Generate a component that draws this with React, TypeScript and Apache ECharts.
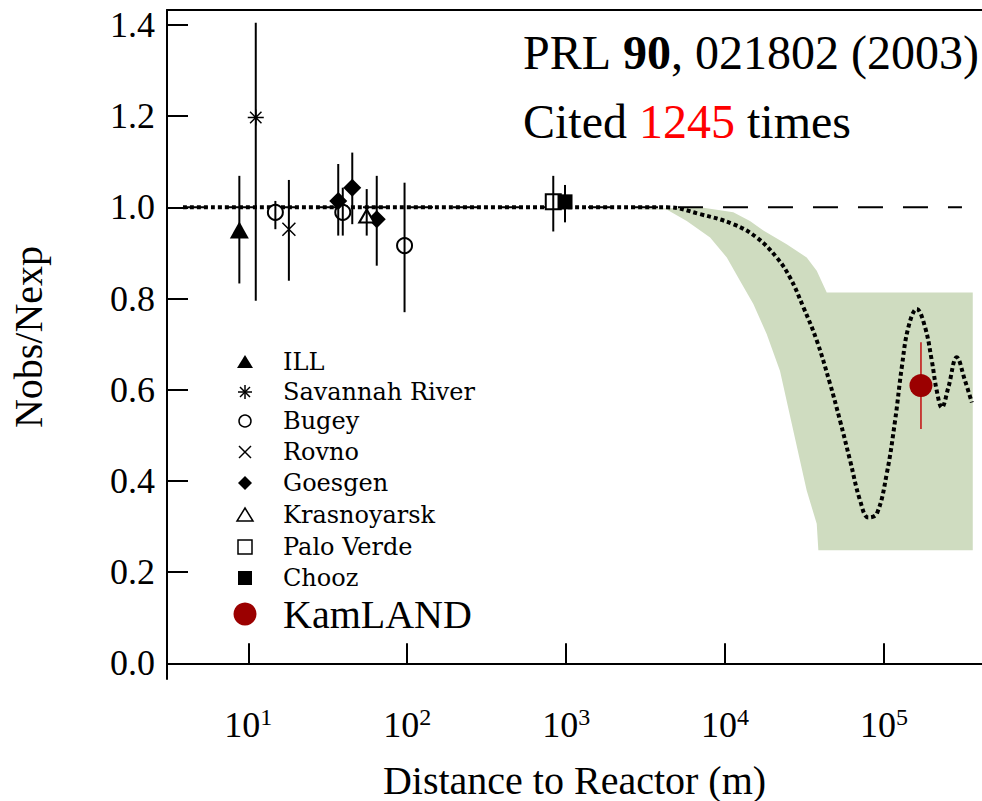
import React, { useEffect, useRef } from "react";
import * as echarts from "echarts";

const SERIF = "'Liberation Serif', 'Times New Roman', serif";
const LEGEND_FONT = "'DejaVu Serif', serif";

// axis ranges
const X_MIN = 3.078;
const X_MAX = 414100;
const Y_MIN = -0.0344;
const Y_MAX = 1.4327;
const X_TICKS = [10, 100, 1000, 10000, 100000];
const Y_TICKS = [0, 0.2, 0.4, 0.6, 0.8, 1.0, 1.2, 1.4];

// [distance (m), Nobs/Nexp, low, high]
const ILL = [[8.78, 0.95, 0.833, 1.069]];
const SAVANNAH_RIVER = [[11.14, 1.197, 0.795, 1.405]];
const BUGEY = [
  [14.8, 0.989, 0.952, 1.014],
  [39.3, 0.989, 0.938, 1.043],
  [96.2, 0.916, 0.77, 1.054],
];
const ROVNO = [[18.0, 0.952, 0.839, 1.06]];
const GOESGEN = [
  [36.8, 1.014, 0.938, 1.095],
  [45.1, 1.043, 0.963, 1.12],
  [64.3, 0.974, 0.872, 1.069],
];
const KRASNOYARSK = [[55.6, 0.981, 0.938, 1.04]];
const PALO_VERDE = [[830, 1.012, 0.947, 1.069]];
const CHOOZ = [[984, 1.012, 0.967, 1.049]];
const KAMLAND = [[171000, 0.609, 0.514, 0.704]];

// oscillation curve (best fit) and no-oscillation line
const OSC_CURVE = [
  [3.88, 1.0], [4315, 1.0], [6966, 0.985], [11270, 0.963], [15810, 0.934],
  [21130, 0.89], [25640, 0.846], [31110, 0.781], [37760, 0.708], [45800, 0.613],
  [52950, 0.532], [61220, 0.445], [70790, 0.357], [79800, 0.32], [90150, 0.328],
  [104200, 0.416], [117500, 0.532], [129500, 0.649], [142500, 0.737], [160800, 0.777],
  [181500, 0.737], [200000, 0.664], [214900, 0.598], [231200, 0.561], [254300, 0.605],
  [287100, 0.671], [323600, 0.62], [357300, 0.572],
];
const NO_OSC_LINE = [[3.88, 1.0], [309700, 1.0]];

// allowed region band
const BAND_UPPER = [
  [2523, 0.995], [6966, 1.0], [11270, 0.989], [14350, 0.97], [17420, 0.949],
  [24430, 0.919], [32650, 0.89], [37760, 0.861], [43650, 0.813], [362200, 0.813],
];
const BAND_LOWER = [
  [2523, 0.995], [4295, 0.995], [5741, 0.97], [8054, 0.934], [10260, 0.89],
  [12420, 0.839], [15070, 0.788], [18280, 0.722], [22180, 0.641], [26900, 0.51],
  [32650, 0.379], [37760, 0.306], [38660, 0.248], [362200, 0.248],
];

const LEGEND_NAMES = [
  "ILL", "Savannah River", "Bugey", "Rovno", "Goesgen",
  "Krasnoyarsk", "Palo Verde", "Chooz", "KamLAND",
];

const KAM_RED = "#9b0000";
const KAM_BAR = "#c41a1a";

const ASTERISK = "path://M8,0L8,16M0,8L16,8M2.3,2.3L13.7,13.7M2.3,13.7L13.7,2.3";
const CROSS = "path://M0,0L16,16M0,16L16,0";

function scatter(name: string, rows: number[][], symbol: string, size: any, extra: any = {}) {
  return {
    type: "scatter",
    name,
    data: rows.map((r) => [r[0], r[1]]),
    symbol,
    symbolSize: size,
    z: 3,
    itemStyle: { color: "#000", borderColor: "#000", borderWidth: 1.5, opacity: 1, ...extra },
    emphasis: { disabled: true },
  };
}

const ALL_REACTOR = [
  ...ILL, ...SAVANNAH_RIVER, ...BUGEY, ...ROVNO, ...GOESGEN,
  ...KRASNOYARSK, ...PALO_VERDE, ...CHOOZ,
];

function errSeries(name: string, rows: number[][], color: string, width: number, z: number) {
  return {
    type: "custom",
    name,
    z,
    data: rows.map((r) => [r[0], r[2], r[3]]),
    encode: { x: 0, y: [1, 2] },
    renderItem: (_p: any, api: any) => {
      const a = api.coord([api.value(0), api.value(1)]);
      const b = api.coord([api.value(0), api.value(2)]);
      return {
        type: "line",
        shape: { x1: a[0], y1: a[1], x2: b[0], y2: b[1] },
        style: { stroke: color, lineWidth: width },
      };
    },
  };
}

// legend drawing (layout constants)
const LX = 245;
const TX = 283;
const LEGEND_ROWS = [362, 392, 421, 452, 483, 515, 547, 578, 614];

function ln(x1: number, y1: number, x2: number, y2: number, w = 1.5) {
  return { type: "line", shape: { x1, y1, x2, y2 }, style: { stroke: "#000", lineWidth: w } };
}

function legendMarker(i: number, cy: number): any[] {
  const cx = LX;
  switch (i) {
    case 0:
      return [{ type: "polygon", shape: { points: [[cx, cy - 7], [cx + 8, cy + 6], [cx - 8, cy + 6]] }, style: { fill: "#000" } }];
    case 1:
      return [ln(cx, cy - 7, cx, cy + 7), ln(cx - 7, cy, cx + 7, cy), ln(cx - 5, cy - 5, cx + 5, cy + 5), ln(cx - 5, cy + 5, cx + 5, cy - 5)];
    case 2:
      return [{ type: "circle", shape: { cx, cy, r: 6 }, style: { fill: "none", stroke: "#000", lineWidth: 1.5 } }];
    case 3:
      return [ln(cx - 6, cy - 6, cx + 6, cy + 6), ln(cx - 6, cy + 6, cx + 6, cy - 6)];
    case 4:
      return [{ type: "polygon", shape: { points: [[cx, cy - 7], [cx + 7, cy], [cx, cy + 7], [cx - 7, cy]] }, style: { fill: "#000" } }];
    case 5:
      return [{ type: "polygon", shape: { points: [[cx, cy - 7], [cx + 8, cy + 6], [cx - 8, cy + 6]] }, style: { fill: "none", stroke: "#000", lineWidth: 1.5 } }];
    case 6:
      return [{ type: "rect", shape: { x: cx - 7, y: cy - 7, width: 14, height: 14 }, style: { fill: "none", stroke: "#000", lineWidth: 1.5 } }];
    case 7:
      return [{ type: "rect", shape: { x: cx - 7, y: cy - 7, width: 14, height: 14 }, style: { fill: "#000" } }];
    default:
      return [{ type: "circle", shape: { cx, cy, r: 11.5 }, style: { fill: KAM_RED } }];
  }
}

function buildLegend() {
  const els: any[] = [];
  LEGEND_NAMES.forEach((name, i) => {
    const cy = LEGEND_ROWS[i];
    legendMarker(i, cy).forEach((e) => els.push(e));
    const big = i === LEGEND_NAMES.length - 1;
    els.push({
      type: "text",
      x: TX,
      y: cy,
      style: {
        text: name,
        fill: "#000",
        fontFamily: big ? SERIF : LEGEND_FONT,
        fontSize: big ? 40 : 24,
        verticalAlign: "middle",
        align: "left",
      },
    });
  });
  return { type: "group", children: els };
}

export default function App() {
  const ref = useRef<HTMLDivElement>(null);
  useEffect(() => {
    if (!ref.current) return;
    const chart = echarts.init(ref.current, null, { renderer: "svg" });
    const option: any = {
      animation: false,
      backgroundColor: "#fff",
      grid: { left: 167, right: 0, top: 10, bottom: 122, containLabel: false, outerBoundsMode: "none" },
      xAxis: [
        {
          type: "log",
          logBase: 10,
          min: X_MIN,
          max: X_MAX,
          name: "Distance to Reactor (m)",
          nameLocation: "middle",
          nameGap: 79,
          nameMoveOverlap: false,
          nameTextStyle: { fontSize: 40, fontFamily: SERIF, color: "#000", lineHeight: 44 },
          axisLine: { show: true, lineStyle: { color: "#000", width: 2 } },
          axisTick: { show: true, inside: true, length: 20, customValues: X_TICKS, lineStyle: { color: "#000", width: 2 } },
          minorTick: { show: false },
          splitLine: { show: false },
          axisLabel: {
            show: true,
            customValues: X_TICKS,
            margin: 26,
            color: "#000",
            formatter: (v: number) => {
              const e = Math.log10(v);
              const r = Math.round(e);
              if (Math.abs(e - r) > 1e-6) return "";
              return `{a|10}{s|${r}}`;
            },
            rich: {
              a: { fontSize: 36, fontFamily: SERIF, color: "#000", lineHeight: 40 },
              s: { fontSize: 24, fontFamily: SERIF, color: "#000", lineHeight: 9, verticalAlign: "top" },
            },
          },
        },
        {
          type: "log",
          logBase: 10,
          min: X_MIN,
          max: X_MAX,
          position: "top",
          axisLine: { show: true, lineStyle: { color: "#000", width: 2 } },
          axisTick: { show: false },
          axisLabel: { show: false },
          splitLine: { show: false },
          minorTick: { show: false },
        },
      ],
      yAxis: {
        type: "value",
        min: Y_MIN,
        max: Y_MAX,
        axisLine: { show: true, lineStyle: { color: "#000", width: 2 } },
        axisTick: { show: true, inside: true, length: 21, customValues: Y_TICKS, lineStyle: { color: "#000", width: 2 } },
        splitLine: { show: false },
        axisLabel: {
          show: true,
          customValues: Y_TICKS,
          margin: 12,
          color: "#000",
          fontSize: 36,
          fontFamily: SERIF,
          formatter: (v: number) => (v < -0.001 || v > 1.41 ? "" : v.toFixed(1)),
        },
      },
      graphic: [
        buildLegend(),
        {
          type: "text",
          x: 523,
          y: 52,
          style: {
            text: "PRL {b|90}, 021802 (2003)",
            fill: "#000",
            fontFamily: SERIF,
            fontSize: 48,
            verticalAlign: "middle",
            rich: { b: { fontFamily: SERIF, fontSize: 48, fontWeight: "bold", fill: "#000" } },
          },
        },
        {
          type: "text",
          x: 523,
          y: 121,
          style: {
            text: "Cited {r|1245} times",
            fill: "#000",
            fontFamily: SERIF,
            fontSize: 48,
            verticalAlign: "middle",
            rich: { r: { fontFamily: SERIF, fontSize: 48, fill: "#ff0000" } },
          },
        },
        {
          type: "text",
          x: 28,
          y: 337,
          rotation: Math.PI / 2,
          style: {
            text: "Nobs/Nexp",
            fill: "#000",
            fontFamily: SERIF,
            fontSize: 40,
            align: "center",
            verticalAlign: "middle",
          },
        },
      ],
      series: [
        {
          type: "custom",
          name: "allowed region",
          z: 1,
          data: [[1000, 0.5]],
          encode: { x: 0, y: 1 },
          renderItem: (_p: any, api: any) => {
            const pts = [
              ...BAND_UPPER.map((p) => api.coord(p)),
              ...BAND_LOWER.slice().reverse().map((p) => api.coord(p)),
            ];
            return { type: "polygon", shape: { points: pts }, style: { fill: "#cfdcc0", stroke: "none" } };
          },
        },
        {
          type: "line",
          name: "no oscillation",
          z: 2,
          data: NO_OSC_LINE,
          showSymbol: false,
          symbol: "none",
          lineStyle: { color: "#000", width: 2, type: [25, 20] },
          emphasis: { disabled: true },
        },
        {
          type: "line",
          name: "best fit oscillation",
          z: 2,
          data: OSC_CURVE,
          smooth: 0.4,
          showSymbol: false,
          symbol: "none",
          lineStyle: { color: "#000", width: 4, type: [4, 3] },
          emphasis: { disabled: true },
        },
        errSeries("KamLAND error", KAMLAND, KAM_BAR, 1.6, 2.5),
        scatter("ILL", ILL, "triangle", [19, 17], { borderWidth: 0 }),
        scatter("Savannah River", SAVANNAH_RIVER, ASTERISK, 16),
        scatter("Bugey", BUGEY, "emptyCircle", 15),
        scatter("Rovno", ROVNO, CROSS, 13),
        scatter("Goesgen", GOESGEN, "diamond", [18, 18], { borderWidth: 0 }),
        scatter("Krasnoyarsk", KRASNOYARSK, "emptyTriangle", [15, 13]),
        scatter("Palo Verde", PALO_VERDE, "emptyRect", 15),
        scatter("Chooz", CHOOZ, "rect", 15, { borderWidth: 0 }),
        scatter("KamLAND", KAMLAND, "circle", 23, { color: KAM_RED, borderWidth: 0 }),
        errSeries("reactor errors", ALL_REACTOR, "#000", 2, 4),
      ],
    };
    chart.setOption(option);
    return () => chart.dispose();
  }, []);
  return (
    <div
      ref={ref}
      style={{ position: "absolute", left: 0, top: 0, width: 982, height: 801, background: "#fff" }}
    />
  );
}
